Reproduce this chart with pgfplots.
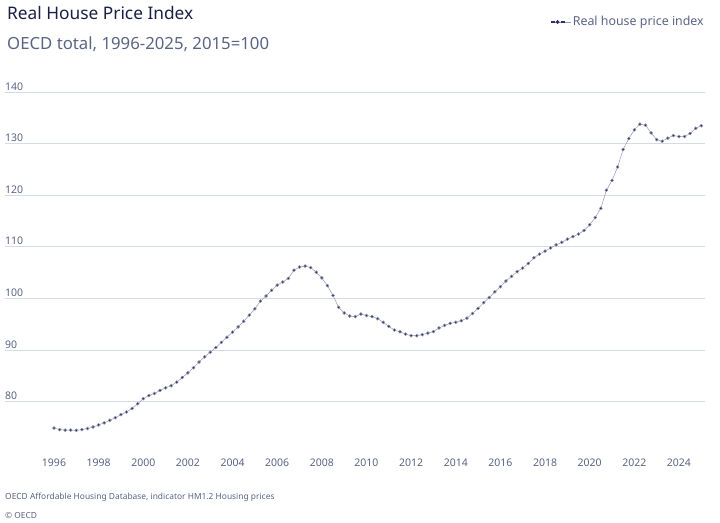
\documentclass[border=0pt]{standalone}
\usepackage{fontspec}
\setmainfont{Noto Sans}
\usepackage{pgfplots}
\usepackage{pgfplotstable}
\pgfplotsset{compat=1.18}

\definecolor{titlecol}{HTML}{1B1F45}
\definecolor{subcol}{HTML}{5A6584}
\definecolor{linecol}{HTML}{2B3060}
\definecolor{gridcol}{HTML}{D5DBE6}

% Real house price index, OECD total, quarterly, 2015=100
\pgfplotstableread{
t v
1996.00 74.9
1996.25 74.6
1996.50 74.5
1996.75 74.5
1997.00 74.45
1997.25 74.6
1997.50 74.8
1997.75 75.1
1998.00 75.5
1998.25 75.9
1998.50 76.4
1998.75 76.9
1999.00 77.5
1999.25 78.0
1999.50 78.7
1999.75 79.6
2000.00 80.6
2000.25 81.2
2000.50 81.6
2000.75 82.2
2001.00 82.7
2001.25 83.1
2001.50 83.8
2001.75 84.7
2002.00 85.6
2002.25 86.6
2002.50 87.7
2002.75 88.7
2003.00 89.6
2003.25 90.5
2003.50 91.5
2003.75 92.5
2004.00 93.5
2004.25 94.5
2004.50 95.6
2004.75 96.8
2005.00 98.0
2005.25 99.5
2005.50 100.5
2005.75 101.6
2006.00 102.6
2006.25 103.2
2006.50 103.9
2006.75 105.5
2007.00 106.1
2007.25 106.3
2007.50 106.0
2007.75 105.1
2008.00 104.0
2008.25 102.5
2008.50 100.6
2008.75 98.3
2009.00 97.2
2009.25 96.6
2009.50 96.5
2009.75 97.0
2010.00 96.7
2010.25 96.5
2010.50 96.1
2010.75 95.4
2011.00 94.6
2011.25 93.9
2011.50 93.55
2011.75 93.1
2012.00 92.8
2012.25 92.8
2012.50 93.0
2012.75 93.3
2013.00 93.6
2013.25 94.3
2013.50 94.8
2013.75 95.2
2014.00 95.4
2014.25 95.7
2014.50 96.2
2014.75 97.1
2015.00 98.1
2015.25 99.2
2015.50 100.2
2015.75 101.3
2016.00 102.3
2016.25 103.4
2016.50 104.3
2016.75 105.2
2017.00 105.9
2017.25 106.8
2017.50 107.9
2017.75 108.6
2018.00 109.2
2018.25 109.8
2018.50 110.4
2018.75 110.9
2019.00 111.5
2019.25 112.0
2019.50 112.5
2019.75 113.2
2020.00 114.3
2020.25 115.7
2020.50 117.5
2020.75 121.0
2021.00 122.9
2021.25 125.5
2021.50 128.9
2021.75 131.0
2022.00 132.7
2022.25 133.8
2022.50 133.6
2022.75 132.1
2023.00 130.8
2023.25 130.5
2023.50 131.1
2023.75 131.6
2024.00 131.4
2024.25 131.4
2024.50 132.0
2024.75 133.0
2025.00 133.5
}\hpi

\begin{document}
\begin{tikzpicture}
\path[use as bounding box] (0,0) rectangle (720bp,-523bp);

% headings
\node[anchor=base west, inner sep=0pt, text=titlecol,
      font=\fontsize{17.3bp}{20bp}\selectfont] at (7bp,-19.5bp) {Real House Price Index};
\node[anchor=base west, inner sep=0pt, text=subcol,
      font=\fontsize{16.75bp}{20bp}\selectfont] at (7bp,-49bp) {OECD total, 1996-2025, 2015=100};

% source notes
\node[anchor=base west, inner sep=0pt, text=subcol,
      font=\fontsize{8.4bp}{10bp}\selectfont] at (5bp,-499bp)
      {OECD Affordable Housing Database, indicator HM1.2 Housing prices};
\node[anchor=base west, inner sep=0pt, text=subcol,
      font=\fontsize{8.4bp}{10bp}\selectfont] at (5bp,-518bp) {\textcopyright{} OECD};

\begin{axis}[
  at={(5bp,-443bp)}, anchor=south west,
  scale only axis, width=700bp, height=356bp,
  xmin=1993.805, xmax=2025.166, ymin=72, ymax=141,
  clip=false,
  axis line style={draw=none},
  major tick length=0pt,
  xtick={1996,1998,...,2024},
  ytick={80,90,...,140},
  ymajorgrids,
  grid style={gridcol, line width=0.9bp},
  /pgf/number format/1000 sep={},
  /pgf/number format/assume math mode=true,
  tick label style={text=subcol, font=\fontsize{10.5bp}{12bp}\selectfont},
  yticklabel style={anchor=base west, inner sep=0pt, yshift=2bp},
  xticklabel style={anchor=base, inner sep=0pt, yshift=-23.7bp},
  legend style={at={(1.0014,1.1826)}, anchor=east, draw=none, fill=none,
                inner sep=0pt, text=subcol,
                font=\fontsize{12.4bp}{15bp}\selectfont},
  legend image code/.code={
    \path (0bp,0bp) -- (20bp,0bp);
    \draw[linecol, line width=1.4bp] (0bp,0bp)--(4bp,0bp) (10bp,0bp)--(14bp,0bp);
    \fill[linecol] (7bp,0bp) circle (1.6bp);
  },
]
\addplot[linecol!50, line width=0.5bp, mark=*, mark size=1.5bp,
         mark options={fill=linecol, draw=none}]
  table[x=t, y=v]{\hpi};
\addlegendentry{Real house price index}
\end{axis}
\end{tikzpicture}
\end{document}
